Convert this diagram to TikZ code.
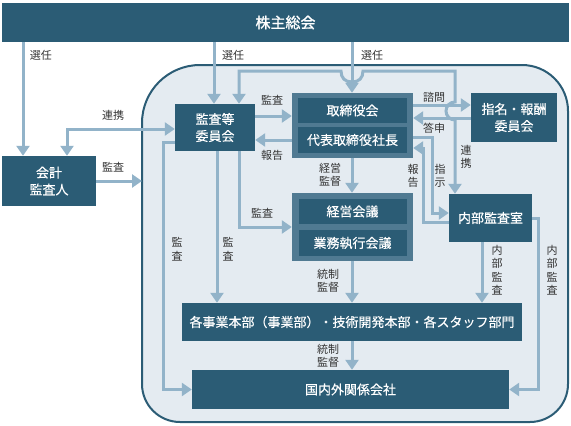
\documentclass[tikz,border=0pt]{standalone}
\usepackage{fontspec}
\setmainfont{Noto Sans CJK JP}
\newfontfamily\titlefont[FakeBold=1.2]{Noto Sans CJK JP}
\newfontfamily\boxfont[FakeBold=0.4]{Noto Sans CJK JP}
\usetikzlibrary{arrows.meta}

\definecolor{boxdark}{RGB}{43,92,117}
\definecolor{grpmid}{RGB}{80,122,146}
\definecolor{linecol}{RGB}{146,179,201}
\definecolor{framefill}{RGB}{228,235,241}
\definecolor{lblcol}{RGB}{51,51,51}

\begin{document}
\begin{tikzpicture}[x=1pt,y=-1pt]

  \tikzset{box/.style = {fill=boxdark,text=white,inner sep=0pt,align=center,
      font=\boxfont\fontsize{13}{17}\selectfont}}
  \tikzset{grp/.style = {fill=grpmid,inner sep=0pt}}
  \tikzset{link/.style = {draw=linecol,line width=3pt,->,
      >={Triangle[width=13pt,length=10pt]}}}
  \tikzset{lbl/.style = {text=lblcol,inner sep=0pt,align=center,
      font=\fontsize{11}{13.5}\selectfont}}
  \tikzset{frame/.style = {fill=framefill,draw=boxdark,line width=2pt}}

  \useasboundingbox (0,0) rectangle (571,426);

  % frame
  \draw[frame] (142,250) [rounded corners=58pt] -- (142,65) -- (355,65)
    [rounded corners=46pt] -- (568,65) -- (568,250)
    [rounded corners=38pt] -- (568,422) -- (142,422) -- cycle;

  % boxes
  \node[box,minimum width=567pt,minimum height=39pt] (soukai) at (285.5,22.5)
    {\titlefont\fontsize{15}{17}\selectfont 株主総会};
  \node[box,minimum width=94pt,minimum height=50pt] (kaikei) at (49,181) {会計\\監査人};
  \node[box,minimum width=80pt,minimum height=47pt] (kansa) at (215,127.5) {監査等\\委員会};
  \node[grp,minimum width=121pt,minimum height=65pt] (grpA) at (352.5,125.5) {};
  \node[box,minimum width=109pt,minimum height=25pt] (torishimari) at (352.5,110.5) {取締役会};
  \node[box,minimum width=109pt,minimum height=26pt] (shacho) at (352.5,140) {代表取締役社長};
  \node[box,minimum width=86pt,minimum height=49pt] (shimei) at (514,117.5) {指名・報酬\\委員会};
  \node[box,minimum width=83pt,minimum height=48pt] (naibu) at (490.5,218) {内部監査室};
  \node[grp,minimum width=121pt,minimum height=68pt] (grpB) at (352.5,227) {};
  \node[box,minimum width=108pt,minimum height=25pt] (keiei) at (352.5,211.5) {経営会議};
  \node[box,minimum width=108pt,minimum height=26pt] (gyomu) at (352.5,243) {業務執行会議};
  \node[box,minimum width=340pt,minimum height=38pt] (jigyo) at (352,322)
    {各事業本部（事業部）・技術開発本部・各スタッフ部門};
  \node[box,minimum width=317pt,minimum height=39pt] (kanren) at (350.5,389.5) {国内外関係会社};

  % lanes and rows
  \coordinate (lnA) at (23,0);
  \coordinate (lnB) at (214,0);
  \coordinate (lnC) at (352,0);
  \coordinate (lnD) at (239,0);
  \coordinate (lnE) at (455,0);
  \coordinate (lnF) at (67,0);
  \coordinate (lnG) at (163,0);
  \coordinate (lnH) at (217,0);
  \coordinate (lnJ) at (423,0);
  \coordinate (lnK) at (432,0);
  \coordinate (lnL) at (482,0);
  \coordinate (lnM) at (538,0);
  \coordinate (fw) at (142,0);
  \coordinate (rwA) at (0,71);
  \coordinate (rwB) at (0,129);
  \coordinate (rwC) at (0,116);
  \coordinate (rwD) at (0,140);
  \coordinate (rwF) at (0,142);
  \coordinate (rwG) at (0,105);
  \coordinate (rwH) at (0,118);
  \coordinate (rwI) at (0,137);
  \coordinate (rwJ) at (0,213);
  \coordinate (rwK) at (0,222);
  \coordinate (rwL) at (0,148);

  % connectors
  \draw[link] (soukai.south -| lnA) -- (kaikei.north -| lnA);
  \draw[link] (soukai.south -| lnB) -- (kansa.north -| lnB);
  \draw[link] (soukai.south -| lnC) -- (grpA.north -| lnC);
  \draw[link,<->] (kansa.north -| lnD) -- (lnD |- rwA) -- (341,71)
    .. controls (341,78) and (345,82) .. (352,82)
    .. controls (359,82) and (363,78) .. (363,71) -- (lnE |- rwA) -- (455,102)
    .. controls (450,102) and (446,106) .. (446,111)
    .. controls (446,116) and (450,120) .. (455,120) -- (naibu.north -| lnE);
  \draw[link,<->] (kaikei.north -| lnF) -- (lnF |- rwB) -- (kansa.west |- rwB);
  \draw[link] (kaikei.east) -- (kaikei.east -| fw);
  \draw[link] (kansa.east |- rwC) -- (grpA.west |- rwC);
  \draw[link] (grpA.west |- rwD) -- (kansa.east |- rwD);
  \draw[link] (grpA.south -| lnC) -- (grpB.north -| lnC);
  \draw[link] (kansa.south -| lnD) |- (grpB.west);
  \draw[link] (kansa.south -| lnH) -- (jigyo.north -| lnH);
  \draw[link] (kansa.west |- rwF) -- (lnG |- rwF) |- (kanren.west);
  \draw[link] (grpA.east |- rwG) -- (shimei.west |- rwG);
  \draw[link] (shimei.west |- rwH) -- (grpA.east |- rwH);
  \draw[link] (grpA.east |- rwI) -- (lnK |- rwI) |- (naibu.west |- rwJ);
  \draw[link] (naibu.west |- rwK) -- (lnJ |- rwK) |- (grpA.east |- rwL);
  \draw[link] (grpB.south -| lnC) -- (jigyo.north -| lnC);
  \draw[link] (jigyo.south -| lnC) -- (kanren.north -| lnC);
  \draw[link] (naibu.south -| lnL) -- (jigyo.north -| lnL);
  \draw[link] (naibu.east) -- (lnM |- naibu.east) |- (kanren.east);

  % labels
  \node[lbl] (lsenA) at (41,55) {選任};
  \node[lbl] (lsenB) at (233,55) {選任};
  \node[lbl] (lsenC) at (372,55) {選任};
  \node[lbl] (lrenA) at (113,115) {連携};
  \node[lbl] (lkanA) at (113,167) {監査};
  \node[lbl] (lkanB) at (272,100) {監査};
  \node[lbl] (lhouA) at (272,155) {報告};
  \node[lbl] (lkeiei) at (330,175) {経営\\監督};
  \node[lbl] (lkanC) at (262,213) {監査};
  \node[lbl] (lshimon) at (434,97) {諮問};
  \node[lbl] (ltoshin) at (434,128) {答申};
  \node[lbl] (lrenB) at (466,157) {連\\携};
  \node[lbl] (lshiji) at (440,176) {指\\示};
  \node[lbl] (lhouB) at (413,176) {報\\告};
  \node[lbl] (ltouA) at (328,281) {統制\\監督};
  \node[lbl] (ltouB) at (328,356) {統制\\監督};
  \node[lbl] (lkanD) at (177,249) {監\\査};
  \node[lbl] (lkanE) at (228,249) {監\\査};
  \node[lbl] (lnaiA) at (497,270) {内\\部\\監\\査};
  \node[lbl] (lnaiB) at (552,270) {内\\部\\監\\査};
\end{tikzpicture}
\end{document}
